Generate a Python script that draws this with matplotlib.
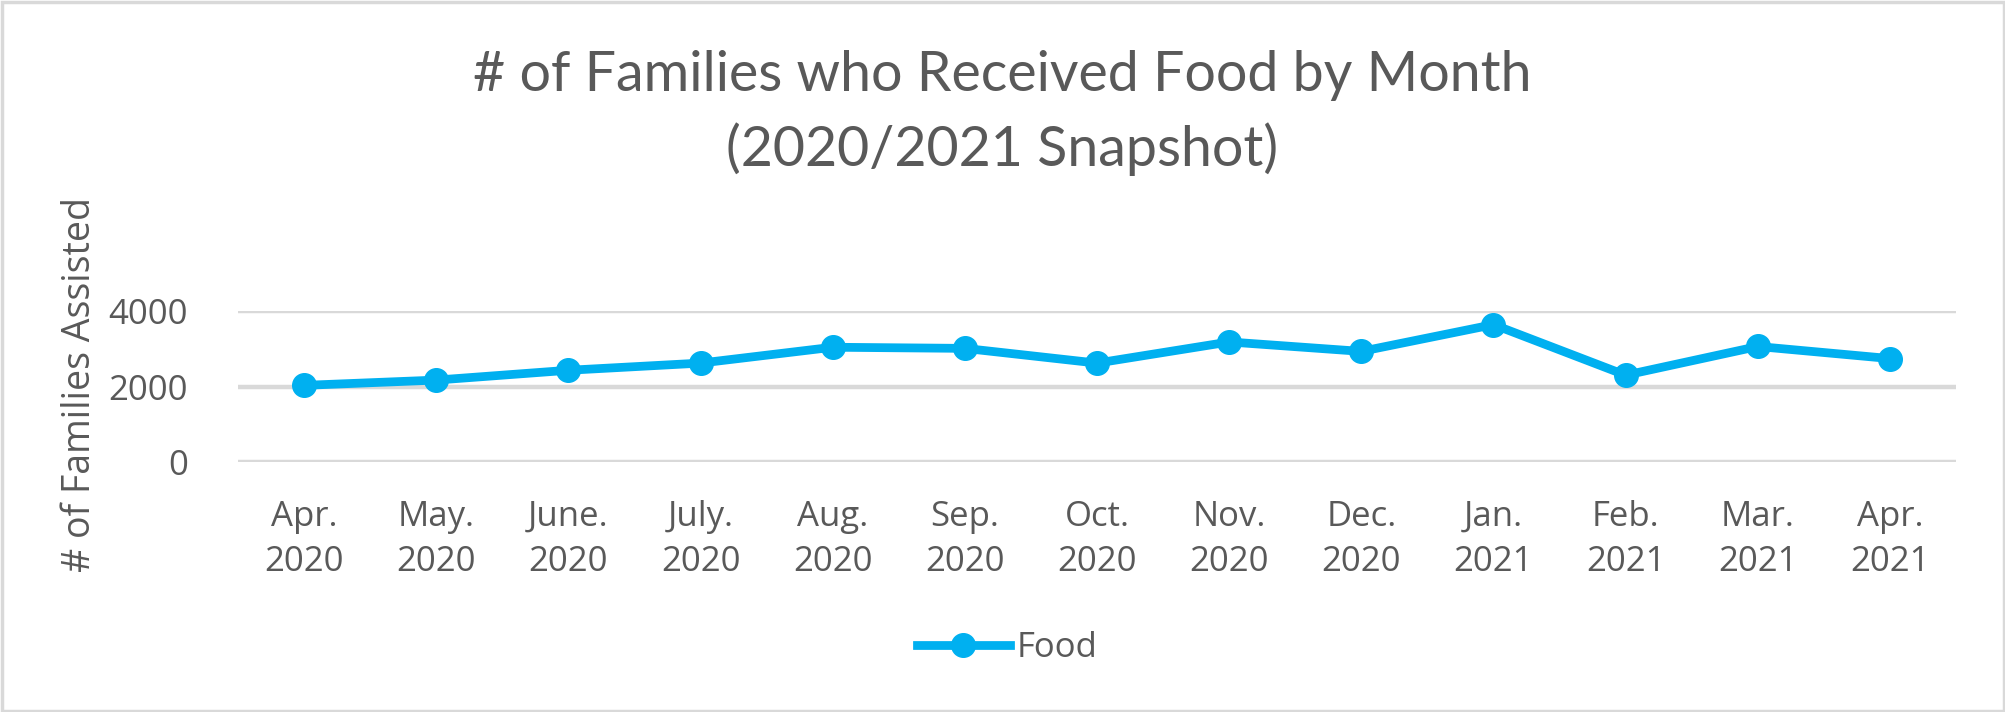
import matplotlib
matplotlib.use("Agg")
import matplotlib.pyplot as plt
from matplotlib.patches import Rectangle

months = ["Apr.\n2020", "May.\n2020", "June.\n2020", "July.\n2020", "Aug.\n2020",
          "Sep.\n2020", "Oct.\n2020", "Nov.\n2020", "Dec.\n2020", "Jan.\n2021",
          "Feb.\n2021", "Mar.\n2021", "Apr.\n2021"]
food = [2030, 2170, 2430, 2620, 3040, 3010, 2620, 3180, 2930, 3640, 2300, 3060, 2740]
yticks = [0, 2000, 4000]

TXT = "#595959"
BLUE = "#00B0F0"
GRID = "#D9D9D9"

W, H = 2005, 712
fig = plt.figure(figsize=(W / 100, H / 100), dpi=100)
fig.patch.set_facecolor("white")

ax = fig.add_axes([238 / W, 1 - 462 / H, (1956 - 238) / W, (462 - 311) / H])
x = list(range(len(months)))
ax.plot(x, food, color=BLUE, lw=6.3, marker="o", markersize=17, label="Food",
        solid_joinstyle="round", clip_on=False, zorder=3)
ax.set_xlim(-0.5, len(months) - 0.5)
ax.set_ylim(0, 4000)
ax.set_yticks(yticks)
ax.set_yticklabels([str(v) for v in yticks])
ax.set_xticks(x)
ax.set_xticklabels(months, linespacing=1.45)
for s in ax.spines.values():
    s.set_visible(False)
ax.grid(axis="y", color=GRID, lw=3.2, zorder=0)
ax.set_axisbelow(True)
ax.tick_params(axis="both", length=0, labelsize=25, labelcolor=TXT)
ax.tick_params(axis="y", pad=36)
ax.tick_params(axis="x", pad=27)
for lab in ax.get_xticklabels() + ax.get_yticklabels():
    lab.set_fontfamily("Open Sans")

fig.text(80 / W, 1 - 384 / H, "# of Families Assisted", rotation=90, ha="center",
         va="center", fontsize=27, color=TXT, family="Open Sans")

fig.text(1002 / W, 1 - 91 / H, "# of Families who Received Food by Month",
         ha="center", va="baseline", fontsize=40, color=TXT, family="Lato")
fig.text(1002 / W, 1 - 166 / H, "(2020/2021 Snapshot)",
         ha="center", va="baseline", fontsize=40, color=TXT, family="Lato")

leg = fig.legend(loc="center", bbox_to_anchor=(1007 / W, 1 - 648 / H), frameon=False,
                 handlelength=2.68, handletextpad=0.2, borderpad=0,
                 prop={"family": "Open Sans", "size": 25})
for t in leg.get_texts():
    t.set_color(TXT)

fig.patches.append(Rectangle((1.5 / W, 1.5 / H), (W - 3) / W, (H - 3) / H,
                             transform=fig.transFigure, fill=False,
                             edgecolor=GRID, lw=2.5))

fig.savefig("out.png", dpi=100, facecolor="white")
